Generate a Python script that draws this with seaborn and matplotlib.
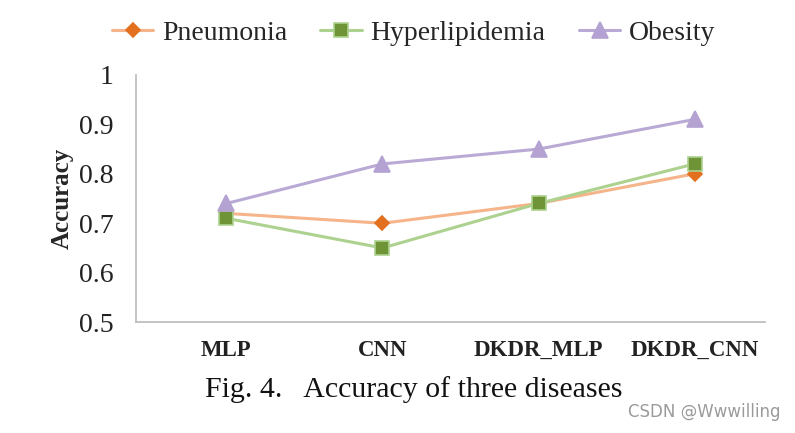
import matplotlib
matplotlib.use("Agg")
import matplotlib.pyplot as plt
import seaborn as sns
import pandas as pd

models = ["MLP", "CNN", "DKDR_MLP", "DKDR_CNN"]
pneumonia = [0.72, 0.70, 0.74, 0.80]
hyperlipidemia = [0.71, 0.65, 0.74, 0.82]
obesity = [0.74, 0.82, 0.85, 0.91]
series_names = ["Pneumonia", "Hyperlipidemia", "Obesity"]
yticks = [0.5, 0.6, 0.7, 0.8, 0.9, 1.0]
ytick_labels = ["0.5", "0.6", "0.7", "0.8", "0.9", "1"]

sns.set_style("white")
plt.rcParams['font.family'] = ['Liberation Serif', 'DejaVu Serif']

df = pd.DataFrame({
    "model": models * 3,
    "acc": pneumonia + hyperlipidemia + obesity,
    "disease": sum([[n] * len(models) for n in series_names], []),
})

fig = plt.figure(figsize=(7.95, 4.33), dpi=100)
ax = fig.add_axes([0.171, 0.256, 0.791, 0.571])

styles = {
    "Pneumonia": dict(line="#F5B489", mfc="#E2701E", mec="#E2701E", marker="D", ms=7),
    "Hyperlipidemia": dict(line="#ADD28F", mfc="#6E9437", mec="#ADD28F", marker="s", ms=10),
    "Obesity": dict(line="#B9A9D5", mfc="#B3A2D2", mec="#B3A2D2", marker="^", ms=11),
}
for name in series_names:
    s = styles[name]
    sub = df[df.disease == name]
    sns.lineplot(data=sub, x="model", y="acc", ax=ax, color=s["line"], lw=2.2,
                 marker=s["marker"], markersize=s["ms"], markerfacecolor=s["mfc"],
                 markeredgecolor=s["mec"], markeredgewidth=1.2, label=name, sort=False)

ax.set_xlim(-0.58, 3.45)
ax.set_ylim(0.5, 1.0)
ax.set_yticks(yticks)
ax.set_yticklabels(ytick_labels, fontsize=20)
ax.set_xticks(range(len(models)))
ax.set_xticklabels(models, fontsize=16.5, fontweight="bold", color="#222222")
ax.tick_params(axis="y", length=0, pad=16, colors="#222222")
ax.tick_params(axis="x", length=0, pad=13)
ax.set_xlabel("")
ax.set_ylabel("Accuracy", fontsize=18, fontweight="bold", labelpad=4)
for sp in ["top", "right"]:
    ax.spines[sp].set_visible(False)
for sp in ["left", "bottom"]:
    ax.spines[sp].set_color("#BFBFBF")
    ax.spines[sp].set_linewidth(1.3)

leg = ax.legend(loc="center", bbox_to_anchor=(0.52, 0.924), bbox_transform=fig.transFigure,
                ncol=3, frameon=False, fontsize=20, handlelength=1.5, handletextpad=0.3,
                columnspacing=1.2)

fig.text(0.521, 0.10, "Fig. 4.   Accuracy of three diseases", ha="center", va="center",
         fontsize=21.5, color="#111111")
fig.text(0.982, 0.049, "CSDN @Wwwilling", ha="right", va="center", fontsize=12,
         color="#9a9a9a", family=["DejaVu Sans"])

fig.savefig("out.png", dpi=100)
